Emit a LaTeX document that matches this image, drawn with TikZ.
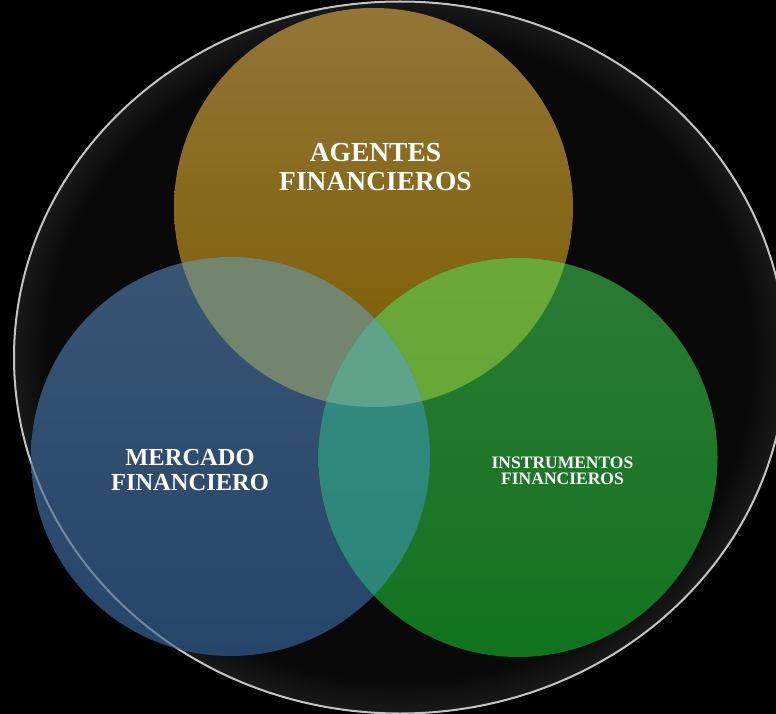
\documentclass[tikz,border=0pt]{standalone}
\usepackage{fontspec}
\setmainfont{Liberation Serif}
\definecolor{bgdark}{HTML}{090909}
\definecolor{rimgray}{HTML}{C4C4C4}
\definecolor{goldtop}{HTML}{937537}
\definecolor{goldmid}{HTML}{806200}
\definecolor{goldbot}{HTML}{7B5D00}
\definecolor{bluetop}{HTML}{395574}
\definecolor{bluebot}{HTML}{25456A}
\definecolor{greentop}{HTML}{2B7B35}
\definecolor{greenbot}{HTML}{12741E}
\definecolor{gbov}{HTML}{72866F}
\definecolor{ggtop}{HTML}{6AA83A}
\definecolor{ggbot}{HTML}{5EA62C}
\definecolor{bgtop}{HTML}{368B81}
\definecolor{bgbot}{HTML}{2A8578}
\definecolor{triple}{HTML}{5FA48A}
\tikzset{
  lbl/.style={text=white, inner sep=0pt, align=center, font=\bfseries}
}
\begin{document}
\begin{tikzpicture}[x=1pt,y=-1pt]
\useasboundingbox (0,0) rectangle (776,714);
\fill[black] (0,0) rectangle (776,714);
% outer disc
\coordinate (oc) at (400,357.5);
\fill[bgdark] (oc) ellipse [x radius=386, y radius=356];
\begin{scope}
  \clip (oc) ellipse [x radius=386, y radius=356];
  \foreach \w in {4,8,...,64}{
    \draw[white, opacity=0.008, line width=\w pt] (oc) ellipse [x radius=386, y radius=356];
  }
\end{scope}
\draw[rimgray, line width=2pt] (oc) ellipse [x radius=386, y radius=356];
% three circles
\coordinate (cg) at (373.5,207.5);
\coordinate (cb) at (230.5,456.5);
\coordinate (cr) at (518,457.5);
\shade[top color=goldtop, middle color=goldmid, bottom color=goldbot, shading angle=0] (cg) circle [radius=199.5];
\shade[top color=bluetop, bottom color=bluebot] (cb) circle [radius=199.5];
\shade[top color=greentop, bottom color=greenbot] (cr) circle [radius=199.5];
% rim seen through blue
\begin{scope}
  \clip (cb) circle [radius=199.5];
  \draw[white, opacity=0.35, line width=2pt] (oc) ellipse [x radius=386, y radius=356];
\end{scope}
% overlaps
\begin{scope}
  \clip (cg) circle [radius=199.5];
  \fill[gbov] (cb) circle [radius=199.5];
  \shade[top color=ggtop, bottom color=ggbot] (cr) circle [radius=199.5];
\end{scope}
\begin{scope}
  \clip (cb) circle [radius=199.5];
  \shade[top color=bgtop, bottom color=bgbot] (cr) circle [radius=199.5];
\end{scope}
\begin{scope}
  \clip (cg) circle [radius=199.5];
  \clip (cb) circle [radius=199.5];
  \fill[triple] (cr) circle [radius=199.5];
\end{scope}
% labels
\node[lbl, font=\bfseries\fontsize{27.5}{29}\selectfont] (ag) at (375.5,167) {AGENTES\\FINANCIEROS};
\node[lbl, font=\bfseries\fontsize{24.5}{25}\selectfont] (mf) at (190,470) {MERCADO\\FINANCIERO};
\node[lbl, font=\bfseries\fontsize{17.5}{16.5}\selectfont] (inf) at (562.5,471) {INSTRUMENTOS\\FINANCIEROS};
\end{tikzpicture}
\end{document}
